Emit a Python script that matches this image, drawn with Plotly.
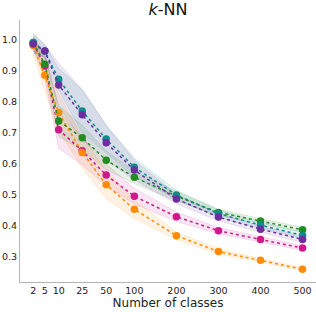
import plotly.graph_objects as go

# --- data -------------------------------------------------------------
classes = [2, 5, 10, 25, 50, 100, 200, 300, 400, 500]
tick_labels = ["2", "5", "10", "25", "50", "100", "200", "300", "400", "500"]
# custom (non-linear) spacing of the class axis, as in the original figure
class_axis_pos = [-140.5, -113, -80, -24, 33, 100, 200, 300, 400, 500]

teal_mean = [0.990, 0.962, 0.871, 0.769, 0.679, 0.588, 0.499, 0.439, 0.402, 0.369]
teal_std = [0.030, 0.020, 0.035, 0.070, 0.045, 0.030, 0.015, 0.012, 0.010, 0.010]

purple_mean = [0.985, 0.962, 0.853, 0.757, 0.667, 0.579, 0.486, 0.428, 0.389, 0.356]
purple_std = [0.030, 0.020, 0.070, 0.080, 0.055, 0.032, 0.015, 0.012, 0.010, 0.010]

green_mean = [0.990, 0.920, 0.737, 0.683, 0.611, 0.556, 0.495, 0.443, 0.415, 0.387]
green_std = [0.020, 0.030, 0.050, 0.040, 0.030, 0.020, 0.015, 0.010, 0.008, 0.008]

magenta_mean = [0.985, 0.914, 0.709, 0.641, 0.563, 0.495, 0.429, 0.384, 0.356, 0.328]
magenta_std = [0.020, 0.040, 0.060, 0.045, 0.035, 0.025, 0.015, 0.010, 0.008, 0.008]

orange_mean = [0.980, 0.884, 0.764, 0.636, 0.532, 0.453, 0.368, 0.317, 0.289, 0.260]
orange_std = [0.030, 0.050, 0.060, 0.050, 0.045, 0.030, 0.012, 0.008, 0.006, 0.006]

yticks = [0.3, 0.4, 0.5, 0.6, 0.7, 0.8, 0.9, 1.0]

# --- styling ------------------------------------------------------------
series = [
    ("magenta", magenta_mean, magenta_std, (205, 25, 140)),
    ("orange", orange_mean, orange_std, (255, 140, 0)),
    ("green", green_mean, green_std, (34, 139, 34)),
    ("teal", teal_mean, teal_std, (15, 139, 141)),
    ("purple", purple_mean, purple_std, (107, 47, 160)),
]

pos_of = dict(zip(classes, class_axis_pos))
xs = [pos_of[c] for c in classes]

fig = go.Figure()

# bands first
for name, m, s, (r, g, b) in series:
    upper = [a + d for a, d in zip(m, s)]
    lower = [a - d for a, d in zip(m, s)]
    fig.add_trace(go.Scatter(x=xs, y=upper, mode="lines",
                             line=dict(color=f"rgba({r},{g},{b},0.13)", width=1),
                             hoverinfo="skip", showlegend=False))
    fig.add_trace(go.Scatter(x=xs, y=lower, mode="lines", fill="tonexty",
                             fillcolor=f"rgba({r},{g},{b},0.11)",
                             line=dict(color=f"rgba({r},{g},{b},0.13)", width=1),
                             hoverinfo="skip", showlegend=False))

# lines + markers
for name, m, s, (r, g, b) in series:
    col = f"rgb({r},{g},{b})"
    fig.add_trace(go.Scatter(x=xs, y=m, mode="lines+markers", name=name,
                             line=dict(color=col, width=1.5, dash="dot"),
                             marker=dict(color=col, size=7.5),
                             showlegend=False))

fig.update_layout(
    width=316, height=312,
    margin=dict(l=20, r=0, t=20, b=30),
    plot_bgcolor="white", paper_bgcolor="white",
    font=dict(family="DejaVu Sans", color="#222222"),
    title=dict(text="<i>k</i>-NN", x=(20 + 316) / 2 / 316, xanchor="center",
               y=1 - 9 / 312, yanchor="middle", yref="container",
               font=dict(size=16, color="#111111")),
    showlegend=False,
)
fig.update_xaxes(
    range=[-172, 532], tickmode="array", tickvals=class_axis_pos, ticktext=tick_labels,
    showgrid=False, zeroline=False, showline=True, linecolor="#b4b4b4", linewidth=1,
    ticks="", tickfont=dict(size=9.5), automargin=False,
    title=dict(text="Number of classes", font=dict(size=12), standoff=2),
)
fig.update_yaxes(
    range=[0.219, 1.062], tickmode="array", tickvals=yticks,
    ticktext=[f"{v:.1f}" for v in yticks],
    showgrid=False, zeroline=False, showline=True, linecolor="#b4b4b4", linewidth=1,
    ticks="", tickfont=dict(size=9.5), automargin=False,
)

fig.write_html("out.html", config={"displayModeBar": False},
               post_script="document.body.style.margin='0px';")
